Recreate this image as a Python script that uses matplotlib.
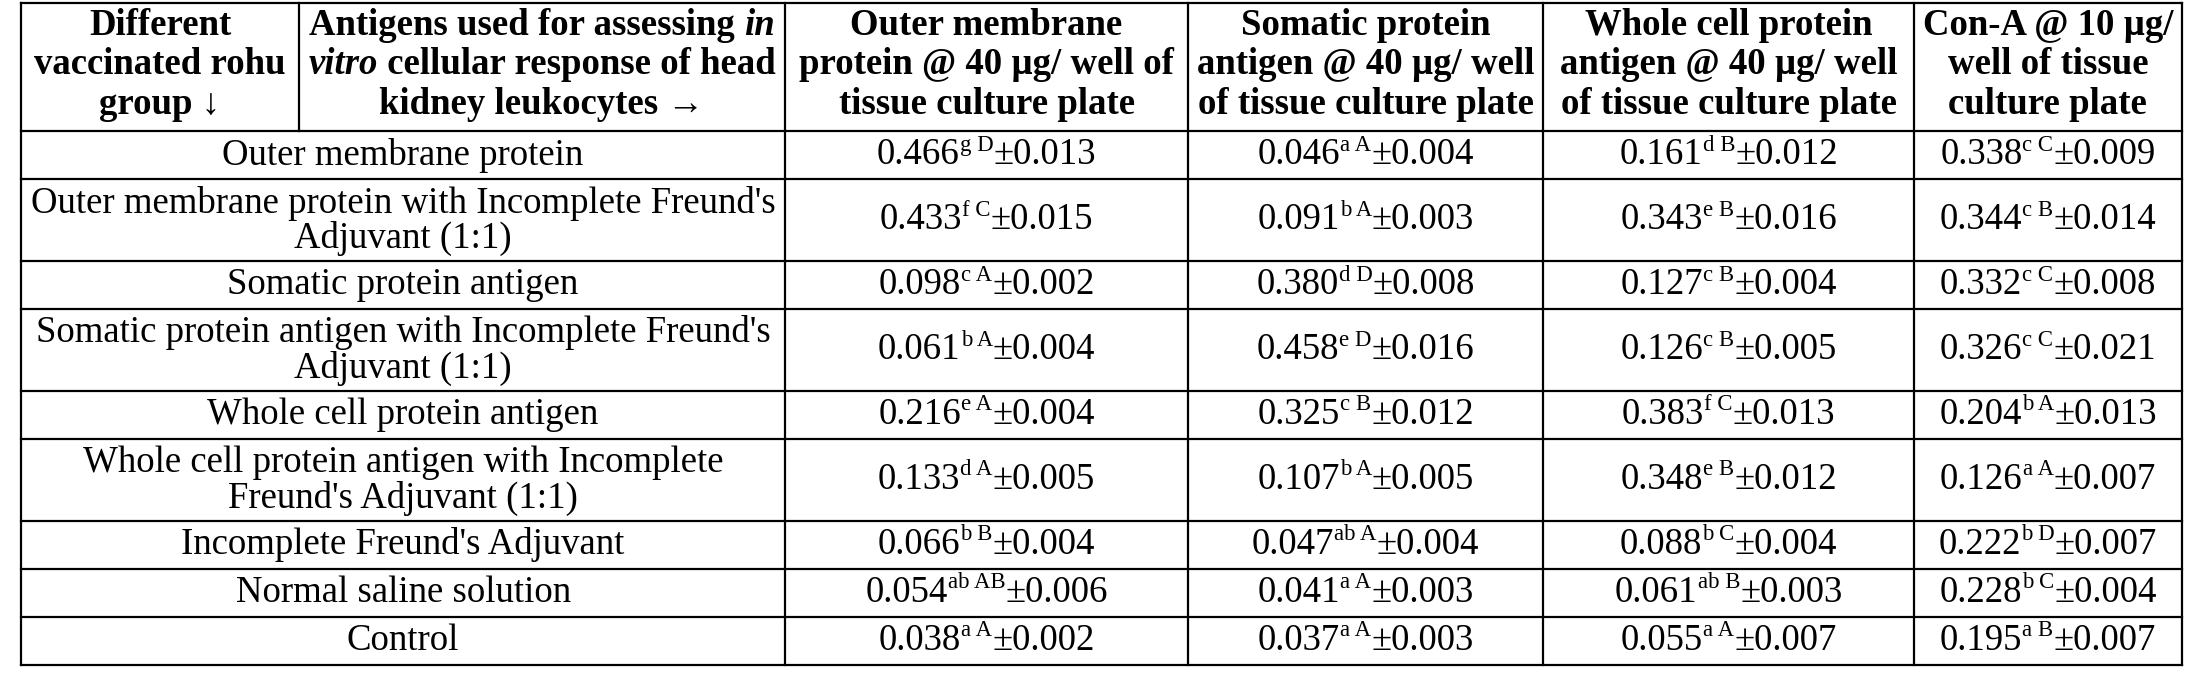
import matplotlib
matplotlib.use("Agg")
import matplotlib.pyplot as plt

groups = [
    ["Outer membrane protein"],
    ["Outer membrane protein with Incomplete Freund's", "Adjuvant (1:1)"],
    ["Somatic protein antigen"],
    ["Somatic protein antigen with Incomplete Freund's", "Adjuvant (1:1)"],
    ["Whole cell protein antigen"],
    ["Whole cell protein antigen with Incomplete", "Freund's Adjuvant (1:1)"],
    ["Incomplete Freund's Adjuvant"],
    ["Normal saline solution"],
    ["Control"],
]
col_headers = [
    ["Outer membrane", "protein @ 40 µg/ well of", "tissue culture plate"],
    ["Somatic protein", "antigen @ 40 µg/ well", "of tissue culture plate"],
    ["Whole cell protein", "antigen @ 40 µg/ well", "of tissue culture plate"],
    ["Con-A @ 10 µg/", "well of tissue", "culture plate"],
]
means = [
    ["0.466", "0.046", "0.161", "0.338"],
    ["0.433", "0.091", "0.343", "0.344"],
    ["0.098", "0.380", "0.127", "0.332"],
    ["0.061", "0.458", "0.126", "0.326"],
    ["0.216", "0.325", "0.383", "0.204"],
    ["0.133", "0.107", "0.348", "0.126"],
    ["0.066", "0.047", "0.088", "0.222"],
    ["0.054", "0.041", "0.061", "0.228"],
    ["0.038", "0.037", "0.055", "0.195"],
]
letters = [
    ["g D", "a A", "d B", "c C"],
    ["f C", "b A", "e B", "c B"],
    ["c A", "d D", "c B", "c C"],
    ["b A", "e D", "c B", "c C"],
    ["e A", "c B", "f C", "b A"],
    ["d A", "b A", "e B", "a A"],
    ["b B", "ab A", "b C", "b D"],
    ["ab AB", "a A", "ab B", "b C"],
    ["a A", "a A", "a A", "a B"],
]
sds = [
    ["0.013", "0.004", "0.012", "0.009"],
    ["0.015", "0.003", "0.016", "0.014"],
    ["0.002", "0.008", "0.004", "0.008"],
    ["0.004", "0.016", "0.005", "0.021"],
    ["0.004", "0.012", "0.013", "0.013"],
    ["0.005", "0.005", "0.012", "0.007"],
    ["0.004", "0.004", "0.004", "0.007"],
    ["0.006", "0.003", "0.003", "0.004"],
    ["0.002", "0.003", "0.007", "0.007"],
]

W, H = 1568, 477
FS = 26.5
FAM = "Liberation Serif"

fig = plt.figure(figsize=(22.1, 6.73), dpi=100)
ax = fig.add_axes([0, 0, 1, 1])
ax.set_xlim(0, W)
ax.set_ylim(H, 0)
ax.axis("off")
fig.canvas.draw()
renderer = fig.canvas.get_renderer()

def width_of(txt, **kw):
    t = ax.text(0, 0, txt, fontsize=kw.get("size", FS), family=FAM,
                weight=kw.get("weight", "normal"), style=kw.get("style", "normal"))
    bb = t.get_window_extent(renderer=renderer)
    t.remove()
    return bb.width * W / fig.bbox.width

def run_line(xc, y, segs):
    ws = [width_of(s, **kw) for s, kw in segs]
    x = xc - sum(ws) / 2
    for (s, kw), w in zip(segs, ws):
        yy = y - 7 if kw.get("sup") else y
        ax.text(x, yy, s, fontsize=kw.get("size", FS), family=FAM,
                weight=kw.get("weight", "normal"), style=kw.get("style", "normal"),
                ha="left", va="center")
        x += w

xs = [15, 557, 843, 1095, 1358, 1548]
hdr_top, hdr_bot = 2, 93
single, double = 34, 58
ys = [hdr_bot]
for g in groups:
    ys.append(ys[-1] + (double if len(g) > 1 else single))

lw = 1.6
for y in [hdr_top] + ys:
    ax.plot([xs[0], xs[-1]], [y, y], color="black", lw=lw)
for x in xs:
    ax.plot([x, x], [hdr_top, ys[-1]], color="black", lw=lw)
ax.plot([212, 212], [hdr_top, hdr_bot], color="black", lw=lw)

B = {"weight": "bold"}
BI = {"weight": "bold", "style": "italic"}
hl = [18, 46, 74]
run_line((15 + 212) / 2, hl[0], [("Different", B)])
run_line((15 + 212) / 2, hl[1], [("vaccinated rohu", B)])
run_line((15 + 212) / 2, hl[2], [("group ↓", B)])
run_line((212 + 557) / 2, hl[0], [("Antigens used for assessing ", B), ("in", BI)])
run_line((212 + 557) / 2, hl[1], [("vitro", BI), (" cellular response of head", B)])
run_line((212 + 557) / 2, hl[2], [("kidney leukocytes →", B)])
for j, lines in enumerate(col_headers):
    xc = (xs[j + 1] + xs[j + 2]) / 2
    for k, ln in enumerate(lines):
        run_line(xc, hl[k], [(ln, B)])

N = {}
SUP = {"sup": True, "size": FS * 0.62}
for i, g in enumerate(groups):
    yc = (ys[i] + ys[i + 1]) / 2
    if len(g) == 1:
        run_line((xs[0] + xs[1]) / 2, yc, [(g[0], N)])
    else:
        run_line((xs[0] + xs[1]) / 2, yc - 12, [(g[0], N)])
        run_line((xs[0] + xs[1]) / 2, yc + 13, [(g[1], N)])
    for j in range(4):
        xc = (xs[j + 1] + xs[j + 2]) / 2
        run_line(xc, yc, [(means[i][j], N), (letters[i][j], SUP), ("±" + sds[i][j], N)])

fig.savefig("out.png", dpi=100, facecolor="white")
